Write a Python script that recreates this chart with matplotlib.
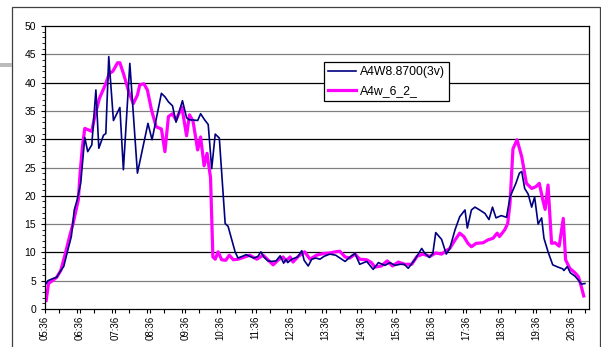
import matplotlib
matplotlib.use("Agg")
import matplotlib.pyplot as plt
from matplotlib.patches import Rectangle
from matplotlib.ticker import MultipleLocator, FixedLocator

plt.rcParams['font.family'] = ['Liberation Sans', 'DejaVu Sans']

# minutes after midnight
navy_t = [338, 341, 350, 356, 363, 368, 375, 381, 386, 391, 397, 404, 409, 416,
          423, 428, 436, 440, 445, 453, 464, 470, 481, 494, 512, 519, 535, 541,
          547, 554, 560, 571, 578, 583, 589, 597, 602, 609, 615, 621, 627, 634,
          644, 649, 661, 666, 673, 680, 686, 693, 700, 705, 710, 717, 723, 731,
          738, 744, 748, 751, 758, 768, 775, 779, 786, 792, 799, 806, 813, 823,
          833, 849, 860, 866, 874, 886, 897, 906, 917, 926, 934, 943, 950, 957,
          968, 980, 985, 993, 999, 1004, 1014, 1022, 1028, 1037, 1045, 1054,
          1058, 1065, 1071, 1079, 1088, 1095, 1101, 1107, 1116, 1125, 1131,
          1141, 1147, 1151, 1156, 1162, 1168, 1173, 1179, 1185, 1189, 1196,
          1204, 1213, 1221, 1223, 1229, 1234, 1242, 1247, 1253, 1259]
navy_v = [4.5, 5.0, 5.4, 5.6, 6.8, 7.5, 10.4, 12.8, 17.5, 19.3, 22.2, 30.3, 27.8, 29.0,
          38.7, 28.4, 30.7, 31.0, 44.6, 33.3, 35.6, 24.6, 43.4, 24.0, 32.8, 29.9, 38.1, 37.5,
          36.6, 35.9, 33.0, 36.8, 33.8, 33.4, 33.4, 33.3, 34.5, 33.4, 32.6, 24.8, 30.9, 30.2,
          15.1, 14.6, 10.1, 9.0, 9.3, 9.6, 9.3, 9.0, 9.3, 10.1, 9.2, 8.5, 8.4, 8.5,
          9.4, 8.1, 8.8, 8.2, 8.8, 9.2, 10.3, 8.6, 7.6, 8.8, 9.0, 8.8, 9.3, 9.7,
          9.5, 8.4, 9.4, 9.8, 7.9, 8.4, 7.0, 8.2, 7.7, 8.2, 7.7, 7.9, 7.9, 7.2,
          8.7, 10.7, 9.9, 9.1, 9.8, 13.5, 12.3, 9.7, 10.7, 14.0, 16.3, 17.5,
          14.3, 17.5, 18.0, 17.5, 16.9, 15.8, 18.0, 16.1, 16.5, 16.2, 19.8,
          22.2, 24.0, 24.3, 21.3, 20.3, 18.0, 19.8, 15.0, 16.1, 12.5, 10.1,
          7.8, 7.4, 7.1, 6.8, 7.5, 6.4, 5.8, 5.2, 4.4, 4.5]

mag_t = [338, 342, 350, 356, 363, 370, 378, 384, 393, 396, 400, 404, 416, 421,
         429, 439, 446, 452, 460, 464, 471, 480, 487, 494, 498, 505, 511, 518,
         526, 535, 541, 547, 554, 560, 570, 578, 583, 589, 597, 602, 608, 613,
         619, 623, 627, 632, 638, 645, 651, 658, 666, 675, 686, 698, 709, 726,
         735, 743, 748, 755, 760, 769, 780, 789, 800, 812, 823, 832, 840, 849,
         857, 866, 874, 886, 894, 900, 911, 921, 930, 940, 951, 963, 972, 982,
         994, 1004, 1014, 1022, 1028, 1037, 1045, 1052, 1059, 1065, 1073, 1085,
         1093, 1102, 1109, 1113, 1122, 1127, 1131, 1136, 1143, 1151, 1159,
         1168, 1175, 1181, 1187, 1191, 1196, 1202, 1208, 1215, 1222, 1226,
         1233, 1242, 1248, 1253, 1257]
mag_v = [1.5, 4.5, 5.1, 5.6, 6.8, 9.5, 12.8, 15.1, 19.3, 24.0, 28.7, 31.9, 31.4, 34.0,
         37.2, 39.6, 41.6, 42.0, 43.5, 43.5, 41.3, 38.1, 36.3, 37.8, 39.6, 39.8, 38.7, 35.2,
         32.2, 31.8, 27.8, 34.0, 34.5, 33.4, 35.7, 30.6, 34.3, 33.2, 28.1, 30.4, 25.3, 27.5,
         23.2, 9.2, 8.8, 10.1, 8.7, 8.6, 9.5, 8.7, 8.8, 9.1, 9.5, 8.8, 9.5, 7.8,
         8.7, 9.2, 8.5, 9.2, 8.3, 9.3, 10.1, 8.8, 9.5, 9.8, 9.9, 10.1, 10.2, 9.2,
         9.0, 9.7, 8.8, 8.7, 8.2, 7.4, 7.6, 8.5, 7.6, 8.3, 7.9, 7.9, 9.3, 9.7,
         9.3, 9.9, 9.7, 10.3, 10.7, 12.2, 13.4, 12.8, 11.6, 11.0, 11.6, 11.7,
         12.2, 12.5, 13.4, 12.8, 14.0, 15.1, 18.7, 28.3, 29.9, 26.9, 22.2,
         21.3, 21.6, 22.2, 19.3, 17.6, 21.9, 11.6, 11.7, 11.1, 16.0, 8.7,
         7.2, 6.4, 5.7, 3.9, 2.3]

hour_ticks = list(range(336, 1237, 60))
hour_labels = ["%02d:%02d" % (m // 60, m % 60) for m in hour_ticks]

fig = plt.figure(figsize=(6.01, 3.47), dpi=100)
ax = fig.add_axes([45/601, 38/347, 544/601, 283/347])

# outer chart frame and stray grey bar at left
fig.patches.append(Rectangle((12/601, -0.05), 588/601, 1.05 - 7/347,
                             transform=fig.transFigure, fill=False,
                             edgecolor='#404040', lw=0.9))
fig.patches.append(Rectangle((0, 1 - 67/347), 12/601, 4/347,
                             transform=fig.transFigure, color='#bbbbbb', lw=0))

for i, y in enumerate(range(5, 50, 5)):
    ax.axhline(y, color='#808080' if i % 2 == 0 else 'black', lw=0.9, zorder=1)

ax.plot(navy_t, navy_v, color='#000080', lw=1.2, label='A4W8.8700(3v)', zorder=3)
ax.plot(mag_t, mag_v, color='#FF00FF', lw=2.3, label='A4w_6_2_', zorder=2)

ax.set_xlim(336, 1266)
ax.set_ylim(0, 50)
ax.yaxis.set_major_locator(MultipleLocator(5))
ax.yaxis.set_minor_locator(MultipleLocator(1))
ax.xaxis.set_major_locator(FixedLocator(hour_ticks))
ax.xaxis.set_minor_locator(MultipleLocator(30))
ax.set_xticklabels(hour_labels, rotation=90, fontsize=7)
ax.tick_params(axis='y', labelsize=7.5, direction='out', length=3, width=0.8)
ax.tick_params(axis='x', direction='out', length=3, width=0.8, pad=2)
ax.tick_params(which='minor', direction='out', length=2, width=0.6)
ax.tick_params(axis='x', which='minor', length=3, width=0.8)
for s in ax.spines.values():
    s.set_linewidth(0.9)
    s.set_color('black')

leg = ax.legend(loc='upper left', bbox_to_anchor=(324/601, 1 - 62/347),
                bbox_transform=fig.transFigure, fontsize=8.8, frameon=True,
                fancybox=False, framealpha=1, edgecolor='black',
                handlelength=2.3, handletextpad=0.3, borderpad=0.35,
                labelspacing=0.55, borderaxespad=0)
leg.get_frame().set_linewidth(0.9)

fig.savefig('out.png', dpi=100)
